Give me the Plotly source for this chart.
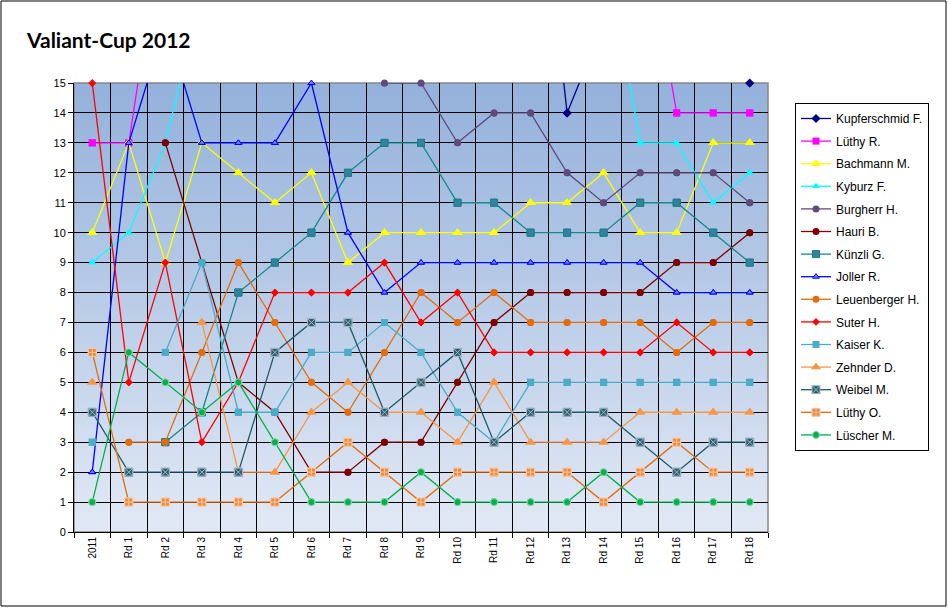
import base64
import plotly.graph_objects as go

# ---------------- data ----------------
rounds = ["2011"] + ["Rd %d" % i for i in range(1, 19)]

kupferschmid = [19, 19, 20, 20, 20, 21, 21, 20, 20, 21, 21, 22, 25, 14, 17, 18, 17, 16, 15]
luethy_r     = [13, 13, 21, 20, 20, 20, 20, 19, 19, 19, 19, 19, 19, 19, 19, 21, 14, 14, 14]
bachmann     = [10, 13, 9, 13, 12, 11, 12, 9, 10, 10, 10, 10, 11, 11, 12, 10, 10, 13, 13]
kyburz       = [9, 10, 13, 18, 17, 17, 17, 17, 17, 17, 17, 17, 18, 18, 20, 13, 13, 11, 12]
burgherr     = [17, 17, 17, 17, 17, 17, 16, 16, 15, 15, 13, 14, 14, 12, 11, 12, 12, 12, 11]
hauri        = [None, None, 13, 9, 5, 4, 2, 2, 3, 3, 5, 7, 8, 8, 8, 8, 9, 9, 10]
kuenzli      = [None, None, 3, 4, 8, 9, 10, 12, 13, 13, 11, 11, 10, 10, 10, 11, 11, 10, 9]
joller       = [2, 13, 17, 13, 13, 13, 15, 10, 8, 9, 9, 9, 9, 9, 9, 9, 8, 8, 8]
leuenberger  = [None, 3, 3, 6, 9, 7, 5, 4, 6, 8, 7, 8, 7, 7, 7, 7, 6, 7, 7]
suter        = [15, 5, 9, 3, 5, 8, 8, 8, 9, 7, 8, 6, 6, 6, 6, 6, 7, 6, 6]
kaiser       = [3, None, 6, 9, 4, 4, 6, 6, 7, 6, 4, 3, 5, 5, 5, 5, 5, 5, 5]
zehnder      = [5, None, None, 7, 2, 2, 4, 5, 4, 4, 3, 5, 3, 3, 3, 4, 4, 4, 4]
weibel       = [4, 2, 2, 2, 2, 6, 7, 7, 4, 5, 6, 3, 4, 4, 4, 3, 2, 3, 3]
luethy_o     = [6, 1, 1, 1, 1, 1, 2, 3, 2, 1, 2, 2, 2, 2, 1, 2, 3, 2, 2]
luescher     = [1, 6, 5, 4, 5, 3, 1, 1, 1, 2, 1, 1, 1, 1, 2, 1, 1, 1, 1]

y_ticks = list(range(0, 16))
title_text = "Valiant-Cup 2012"

# ---------------- styles ----------------
series = [
    ("Kupferschmid F.", kupferschmid, "#000080", dict(symbol="diamond", size=7, color="#000080")),
    ("Lüthy R.", luethy_r, "#FF00FF", dict(symbol="square", size=7, color="#FF00FF")),
    ("Bachmann M.", bachmann, "#FFFF00", dict(symbol="triangle-up", size=9, color="#FFFF00")),
    ("Kyburz F.", kyburz, "#00FFFF", dict(symbol="triangle-up", size=7, color="#00FFFF")),
    ("Burgherr H.", burgherr, "#604A7B", dict(symbol="circle", size=7, color="#604A7B")),
    ("Hauri B.", hauri, "#800000", dict(symbol="circle", size=7, color="#800000")),
    ("Künzli G.", kuenzli, "#158A8A", dict(symbol="square", size=7, color="#31849B", line=dict(color="#1E7F8A", width=1))),
    ("Joller R.", joller, "#0000FF", dict(symbol="triangle-up", size=6, color="#6F7FFF", line=dict(color="#0000FF", width=1))),
    ("Leuenberger H.", leuenberger, "#E46C0A", dict(symbol="circle", size=7, color="#E46C0A")),
    ("Suter H.", suter, "#FF0000", dict(symbol="diamond", size=6, color="#FF0000")),
    ("Kaiser K.", kaiser, "#4BACC6", dict(symbol="square", size=7, color="#4BACC6")),
    ("Zehnder D.", zehnder, "#F79646", dict(symbol="triangle-up", size=9, color="#F79646")),
    ("Weibel M.", weibel, "#215968", dict(symbol="square-x", size=8, color="#2F5E70", line=dict(color="#9FB7C4", width=1))),
    ("Lüthy O.", luethy_o, "#E46C0A", dict(symbol="square-cross", size=8, color="#EE8A40", line=dict(color="#F8C9A2", width=1))),
    ("Lüscher M.", luescher, "#00B050", dict(symbol="circle", size=7, color="#00B050", line=dict(color="#8FD6A0", width=1))),
]

fig = go.Figure()
for i, (name, vals, lc, mk) in enumerate(series):
    fig.add_trace(go.Scatter(
        x=rounds, y=vals, name=name, mode="lines+markers",
        line=dict(color=lc, width=1.3), marker=mk,
        legendgroup="g%02d" % i, connectgaps=False,
    ))
    vis = [v if (v is not None and v <= 15) else None for v in vals]
    fig.add_trace(go.Scatter(
        x=rounds, y=vis, mode="markers", marker=mk, showlegend=False,
        legendgroup="g%02d" % i, cliponaxis=False, hoverinfo="skip",
    ))

# gradient background for plot area
svg = ("<svg xmlns='http://www.w3.org/2000/svg' width='100' height='100' viewBox='0 0 100 100' "
       "preserveAspectRatio='none'><defs><linearGradient id='g' x1='0' y1='0' x2='0' y2='1'>"
       "<stop offset='0' stop-color='#93B1DB'/><stop offset='1' stop-color='#E2E9F5'/>"
       "</linearGradient></defs><rect width='100' height='100' fill='url(#g)'/></svg>")
src = "data:image/svg+xml;base64," + base64.b64encode(svg.encode()).decode()

W, H = 948, 608
L, R, T, B = 74, 768, 83, 532
pw, ph = R - L, B - T

def px(x):
    return (x - L) / pw

def py(y):
    return (B - y) / ph

fig.update_layout(
    width=W, height=H,
    margin=dict(l=L, r=W - R, t=T, b=H - B, pad=0),
    paper_bgcolor="white", plot_bgcolor="#C0D0EA",
    font=dict(family="Liberation Sans, Arial", color="black", size=11),
    showlegend=True,
    legend=dict(
        x=px(795), y=py(103), xanchor="left", yanchor="top",
        bordercolor="black", borderwidth=1, bgcolor="white",
        font=dict(size=12, family="Liberation Sans, Arial"),
        tracegroupgap=3.6, traceorder="grouped", itemwidth=30,
    ),
    images=[dict(source=src, xref="paper", yref="paper", x=0, y=1, sizex=1, sizey=1,
                 xanchor="left", yanchor="top", sizing="stretch", layer="below")],
    shapes=[
        dict(type="rect", xref="paper", yref="paper", x0=0, y0=0, x1=1, y1=1,
             line=dict(color="#888888", width=1.5), fillcolor="rgba(0,0,0,0)", layer="between"),
        dict(type="rect", xref="paper", yref="paper", x0=px(1), x1=px(946), y0=py(606), y1=py(1),
             line=dict(color="black", width=1), fillcolor="rgba(0,0,0,0)"),
    ],
    annotations=[dict(text="<b>" + title_text + "</b>", xref="paper", yref="paper",
                      x=px(24), y=py(40), xanchor="left", yanchor="middle", showarrow=False,
                      font=dict(family="Lato, Open Sans", size=21, color="black"))],
)

fig.update_xaxes(
    type="category", range=[-0.5, len(rounds) - 0.5],
    showgrid=True, gridcolor="black", gridwidth=1, tickson="boundaries",
    ticks="outside", ticklen=5, tickcolor="black",
    showline=True, linecolor="black", linewidth=1,
    tickangle=-90, tickfont=dict(size=10), zeroline=False,
)
fig.update_yaxes(
    range=[0, 15], tickvals=y_ticks, showgrid=True, gridcolor="black", gridwidth=1,
    ticks="outside", ticklen=5, tickcolor="black",
    showline=True, linecolor="black", linewidth=1, zeroline=False,
    tickfont=dict(size=11),
)

fig.write_html("out.html", config={"displayModeBar": False},
               post_script="document.body.style.margin='0px';document.body.style.overflow='hidden';")
